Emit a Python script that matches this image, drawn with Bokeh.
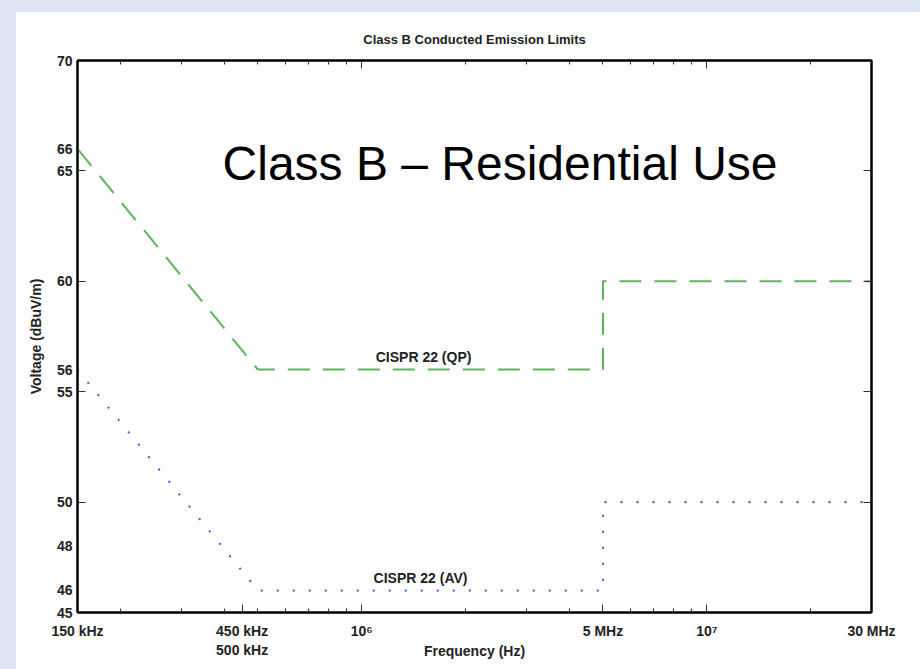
from bokeh.plotting import figure
from bokeh.models import (FixedTicker, LogAxis, LinearAxis, Label,
                          Range1d, CustomJSTickFormatter, GlobalInlineStyleSheet)
from bokeh.embed import file_html
from bokeh.resources import INLINE

# ---------------- data ----------------
qp_freq = [150e3, 500e3, 5e6, 5e6, 30e6]
qp_level = [66, 56, 56, 60, 60]
av_freq = [150e3, 500e3, 5e6, 5e6, 30e6]
av_level = [56, 46, 46, 50, 50]

y_tick_values = [45, 46, 48, 50, 55, 56, 60, 65, 66, 70]
y_tick_marks = [50, 55, 60, 65]

x_tick_values = [150e3, 450e3, 1e6, 5e6, 1e7, 30e6]
x_tick_texts = ["150 kHz", "450 kHz", "10\u2076", "5 MHz", "10\u2077", "30 MHz"]
x_second_row = {450e3: "500 kHz"}
x_major_ticks = [1e6, 1e7]
x_minor_ticks = [2e5, 3e5, 4e5, 5e5, 6e5, 7e5, 8e5, 9e5,
                 2e6, 3e6, 4e6, 5e6, 6e6, 7e6, 8e6, 9e6, 2e7]

FONT = "Liberation Sans"
TXT = "#222222"

labels_shown = [t + ("\n" + x_second_row[v] if v in x_second_row else "")
                for v, t in zip(x_tick_values, x_tick_texts)]

p = figure(width=912, height=666, x_axis_type="log",
           x_range=Range1d(150e3, 30e6), y_range=Range1d(45, 70),
           output_backend="svg", toolbar_location=None,
           min_border_left=77, min_border_right=41,
           min_border_top=60, min_border_bottom=54,
           title="Class B Conducted Emission Limits")

p.border_fill_color = None
p.background_fill_color = "white"
p.outline_line_color = "black"
p.outline_line_width = 2
p.xgrid.visible = False
p.ygrid.visible = False

p.title.align = "center"
p.title.text_font = FONT
p.title.text_font_size = "13px"
p.title.text_font_style = "bold"
p.title.text_color = TXT
p.title.standoff = 27

empty = CustomJSTickFormatter(code="return ''")
xfmt = CustomJSTickFormatter(args=dict(vals=x_tick_values, labs=labels_shown), code="""
    const i = vals.findIndex(v => Math.abs(v - tick) / v < 1e-6);
    return i < 0 ? '' : labs[i];
""")

# bottom axis
xa = p.xaxis[0]
xa.ticker = FixedTicker(ticks=x_tick_values, minor_ticks=x_minor_ticks)
xa.formatter = xfmt
xa.major_tick_in = 8
xa.major_tick_out = 0
xa.minor_tick_in = 4
xa.minor_tick_out = 0
xa.axis_line_width = 2
xa.major_tick_line_color = "#333333"
xa.minor_tick_line_color = "#333333"
xa.major_label_text_font = FONT
xa.major_label_text_font_size = "14px"
xa.major_label_text_font_style = "bold"
xa.major_label_text_color = TXT
xa.major_label_standoff = 10
xa.axis_label = "Frequency (Hz)"
xa.axis_label_text_font = FONT
xa.axis_label_text_font_size = "14px"
xa.axis_label_text_font_style = "bold"
xa.axis_label_text_color = TXT
xa.axis_label_standoff = -18

# left axis
ya = p.yaxis[0]
ya.ticker = FixedTicker(ticks=y_tick_values, minor_ticks=y_tick_marks)
ya.major_tick_in = 0
ya.major_tick_out = 0
ya.minor_tick_in = 8
ya.minor_tick_out = 0
ya.axis_line_width = 2
ya.minor_tick_line_color = "#333333"
ya.major_label_text_font = FONT
ya.major_label_text_font_size = "14px"
ya.major_label_text_font_style = "bold"
ya.major_label_text_color = TXT
ya.major_label_standoff = 5
ya.axis_label = "Voltage (dBuV/m)"
ya.axis_label_text_font = FONT
ya.axis_label_text_font_size = "14px"
ya.axis_label_text_font_style = "bold"
ya.axis_label_text_color = TXT
ya.axis_label_standoff = 10

# top axis (ticks only)
top = LogAxis(ticker=FixedTicker(ticks=x_major_ticks, minor_ticks=x_minor_ticks),
              formatter=empty, major_tick_in=8, major_tick_out=0,
              minor_tick_in=4, minor_tick_out=0, axis_line_width=2,
              major_tick_line_color="#333333", minor_tick_line_color="#333333",
              major_label_standoff=0)
p.add_layout(top, "above")

# right axis (ticks only)
right = LinearAxis(ticker=FixedTicker(ticks=[], minor_ticks=y_tick_marks),
                   formatter=empty, major_tick_in=0, major_tick_out=0,
                   minor_tick_in=8, minor_tick_out=0, axis_line_width=2,
                   minor_tick_line_color="#333333", major_label_standoff=0)
p.add_layout(right, "right")

# limit lines
p.line(qp_freq, qp_level, line_color="#5cb35c", line_width=2, line_dash="22 13")
p.line(av_freq, av_level, line_color="#4d4dff", line_width=2, line_dash="2 14")

# annotations
p.add_layout(Label(x=395e3, y=65.33, text="Class B \u2013 Residential Use",
                   text_font=FONT, text_font_size="48px", text_color="black",
                   text_align="left", text_baseline="middle"))
p.add_layout(Label(x=1.51e6, y=56.56, text="CISPR 22 (QP)",
                   text_font=FONT, text_font_size="14px", text_font_style="bold",
                   text_color=TXT, text_align="center", text_baseline="middle"))
p.add_layout(Label(x=1.48e6, y=46.58, text="CISPR 22 (AV)",
                   text_font=FONT, text_font_size="14px", text_font_style="bold",
                   text_color=TXT, text_align="center", text_baseline="middle"))

p.stylesheets = [GlobalInlineStyleSheet(css=
    "html { background: linear-gradient(to bottom, #dde4f2 0, #dde4f2 12px, rgba(255,255,255,0) 12px),"
    " linear-gradient(to right, #dde4f2 0, #dde4f2 16px, #ffffff 16px); min-height: 100%; }"
    " body { background: transparent; }")]

open("out.html", "w").write(file_html(p, INLINE))
